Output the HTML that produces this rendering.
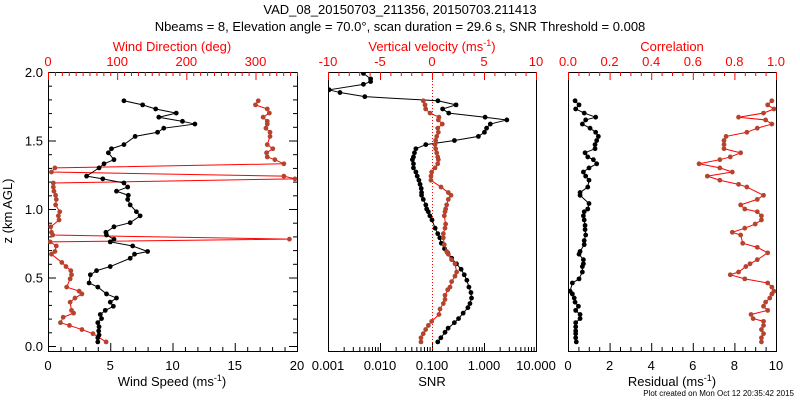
<!DOCTYPE html>
<html><head><meta charset="utf-8"><style>
body{margin:0;background:#fff;}
svg{display:block;font-family:"Liberation Sans",sans-serif;}
</style></head><body>
<svg id="c" width="800" height="400" xmlns="http://www.w3.org/2000/svg"></svg>
<script>
// ---- data ----
const speedZ=[1.79,1.76,1.73,1.70,1.67,1.64,1.62,1.59,1.56,1.53,1.47,1.44,1.41,1.36,1.33,1.30,1.24,1.22,1.19,1.16,1.13,1.10,1.07,1.03,0.98,0.95,0.90,0.87,0.83,0.81,0.78,0.76,0.73,0.69,0.67,0.64,0.58,0.55,0.52,0.46,0.43,0.38,0.35,0.32,0.29,0.26,0.23,0.20,0.17,0.14,0.11,0.08,0.06,0.03];
const speedVals=[6.1,7.6,8.65,10.3,8.9,10.8,11.8,9.3,8.8,7.0,6.1,5.1,4.85,5.3,4.5,4.1,3.1,4.4,6.1,6.4,5.5,6.45,6.4,6.6,7.1,7.4,6.6,5.3,4.65,4.7,5.3,5.0,6.8,8.0,6.95,6.6,5.0,3.9,3.4,3.3,4.0,4.7,5.5,5.0,5.25,4.6,4.2,4.3,4.0,4.1,4.07,4.1,4.0,4.0];
const dirZ=[1.79,1.76,1.73,1.70,1.67,1.64,1.62,1.59,1.56,1.53,1.47,1.44,1.41,1.38,1.36,1.33,1.30,1.27,1.24,1.22,1.19,1.16,1.13,1.10,1.07,1.03,0.98,0.95,0.92,0.87,0.83,0.81,0.78,0.76,0.73,0.69,0.67,0.61,0.58,0.55,0.52,0.49,0.43,0.40,0.38,0.35,0.32,0.26,0.24,0.21,0.17,0.15,0.12,0.09,0.03];
const dirVals=[304,300,317,320,311,317,317,315,321,321,317,325,316,317,328,341,10,5,341,357,7.7,7.7,8.6,11,12,11,17,15,16,4,5,6.8,349,3,12,10,5,20,26,33,34,32,27,45,49,39,32,34,37,22,18,31,49,65,84];
const snrZ=[1.99,1.95,1.93,1.91,1.87,1.85,1.82,1.79,1.76,1.73,1.70,1.67,1.65,1.62,1.59,1.56,1.53,1.50,1.47,1.44,1.41,1.38,1.36,1.33,1.30,1.27,1.24,1.21,1.18,1.15,1.12,1.10,1.07,1.03,1.00,0.98,0.95,0.92,0.86,0.82,0.79,0.75,0.71,0.68,0.64,0.60,0.56,0.52,0.48,0.43,0.39,0.35,0.31,0.28,0.24,0.20,0.17,0.13,0.10,0.06,0.03];
const snrVals=[0.0048,0.0066,0.0066,0.0048,0.00105,0.0017,0.0051,0.13,0.29,0.16,0.21,1.05,2.75,1.32,1.12,1.02,0.78,0.27,0.076,0.049,0.046,0.044,0.042,0.044,0.044,0.049,0.052,0.056,0.059,0.062,0.063,0.063,0.068,0.076,0.079,0.085,0.091,0.100,0.115,0.129,0.141,0.151,0.174,0.2,0.24,0.295,0.363,0.417,0.468,0.513,0.562,0.575,0.537,0.49,0.398,0.324,0.269,0.204,0.178,0.148,0.129];
const velZ=[1.79,1.76,1.73,1.70,1.67,1.65,1.62,1.59,1.56,1.53,1.50,1.47,1.44,1.41,1.38,1.36,1.33,1.30,1.27,1.24,1.21,1.16,1.12,1.10,1.07,1.03,1.00,0.98,0.95,0.89,0.86,0.82,0.79,0.74,0.69,0.67,0.63,0.60,0.54,0.51,0.47,0.43,0.41,0.37,0.34,0.31,0.27,0.23,0.18,0.15,0.12,0.09,0.06,0.03];
const velVals=[-0.84,-0.67,-0.61,-0.19,0.67,0.61,0.99,0.55,0.61,0.45,0.35,0.29,0.35,0.45,0.55,0.61,0.55,0.29,-0.03,-0.1,-0.1,0.87,1.57,1.83,1.57,1.41,1.31,1.25,1.18,1.31,1.25,1.09,1.09,1.18,1.41,1.57,1.89,2.21,2.37,2.21,1.89,1.73,1.51,1.25,1.25,1.09,0.77,0.67,-0.03,-0.35,-0.61,-0.84,-1.06,-1.06];
const resZ=[1.79,1.76,1.73,1.70,1.67,1.65,1.62,1.59,1.56,1.53,1.50,1.47,1.44,1.41,1.38,1.36,1.33,1.30,1.27,1.24,1.21,1.16,1.12,1.10,1.04,1.00,0.98,0.95,0.92,0.88,0.85,0.81,0.77,0.74,0.69,0.67,0.63,0.60,0.58,0.54,0.49,0.46,0.40,0.38,0.35,0.32,0.29,0.26,0.23,0.20,0.17,0.14,0.11,0.09,0.06,0.03];
const resVals=[0.34,0.53,0.37,0.78,1.33,0.85,0.69,1.06,1.33,1.46,1.38,1.3,1.3,0.82,0.95,1.22,1.38,1.01,0.74,0.85,1.01,0.95,0.58,0.58,1.01,0.95,0.78,0.74,0.78,0.82,0.82,0.85,0.78,0.78,0.58,0.53,0.74,0.74,0.69,0.69,0.53,0.21,0.1,0.21,0.3,0.34,0.5,0.37,0.58,0.58,0.37,0.37,0.37,0.37,0.37,0.4];
const corrZ=[1.79,1.76,1.73,1.70,1.67,1.65,1.62,1.59,1.56,1.53,1.50,1.47,1.44,1.41,1.38,1.36,1.33,1.30,1.27,1.24,1.21,1.18,1.16,1.10,1.07,1.03,1.00,0.98,0.95,0.92,0.89,0.86,0.83,0.81,0.75,0.72,0.68,0.63,0.60,0.58,0.54,0.52,0.49,0.46,0.43,0.40,0.38,0.35,0.32,0.29,0.26,0.23,0.20,0.18,0.15,0.12,0.09,0.06,0.03];
const corrVals=[0.98,0.96,0.99,0.94,0.82,0.95,0.98,0.91,0.86,0.76,0.75,0.75,0.75,0.83,0.78,0.73,0.63,0.73,0.79,0.67,0.73,0.82,0.86,0.94,0.91,0.83,0.85,0.91,0.93,0.93,0.9,0.85,0.79,0.83,0.84,0.91,0.96,0.91,0.875,0.855,0.82,0.78,0.85,0.96,0.98,0.99,0.98,0.97,0.95,0.94,0.96,0.88,0.89,0.94,0.94,0.93,0.94,0.93,0.93];
const zTicks=["0.0","0.5","1.0","1.5","2.0"];
const speedTicks=["0","5","10","15","20"];
const dirTicks=["0","100","200","300"];
const snrTicks=["0.001","0.010","0.100","1.000","10.000"];
const velTicks=["-10","-5","0","5","10"];
const resTicks=["0","2","4","6","8","10"];
const corrTicks=["0.0","0.2","0.4","0.6","0.8","1.0"];

const NS="http://www.w3.org/2000/svg";
const svg=document.getElementById('c');
const RED="#ff0000", BR="#b5442e";
const TOP=72,BOT=351;
function Y(z){return 346-z*137;}
function mk(tag,attrs,parent){const e=document.createElementNS(NS,tag);for(const k in attrs)e.setAttribute(k,attrs[k]);(parent||svg).appendChild(e);return e;}
function txt(x,y,s,opt){opt=opt||{};const t=mk('text',{x:x,y:y,'font-size':opt.fs||13,fill:opt.fill||'#000','text-anchor':opt.anchor||'middle'});if(opt.tr)t.setAttribute('transform',opt.tr);t.textContent=s;return t;}
function tick(x1,y1,x2,y2,col){const l=mk('line',{x1:x1,y1:y1,x2:x2,y2:y2,stroke:col,'stroke-width':1});}

// titles
txt(400,14,"VAD_08_20150703_211356, 20150703.211413",{name:'chart-title'});
txt(400,31,"Nbeams = 8, Elevation angle = 70.0°, scan duration = 29.6 s, SNR Threshold = 0.008",{name:'chart-subtitle'});
txt(794,396,"Plot created on Mon Oct 12 20:35:42 2015",{fs:8,anchor:'end',name:'plot-created-note'});
txt(12,211,"z (km AGL)",{tr:'rotate(-90 12 211)',name:'y-axis-title'});

const panels=[
 {x0:48,x1:297,name:'wind'},
 {x0:328,x1:536,name:'snr'},
 {x0:568,x1:776,name:'residual'}];
panels.forEach(p=>{const r=mk('rect',{x:p.x0+0.5,y:TOP+0.5,width:p.x1-p.x0,height:BOT-TOP,fill:'none',stroke:'#000','stroke-width':1});});

// y axis panel 1
for(let i=0;i<=20;i++){const z=i*0.1,y=Y(z)+0.5,L=(i%5==0)?8:4;tick(48,y,48+L,y,'#000');tick(297,y,297-L,y,'#000');}
zTicks.forEach((s,i)=>txt(43,Y(i*0.5)+5,s,{anchor:'end',name:'y-tick-label'}));

// panel 1 axes
const sx=v=>48+v*(249/20), dx=v=>48+v*(249/360);
for(let v=0;v<=20;v++){const x=sx(v)+0.5;tick(x,BOT,x,BOT-(v%5==0?8:4),'#000');}
speedTicks.forEach((s,i)=>txt(sx(i*5),370,s,{name:'speed-tick-label'}));
for(let v=0;v<=360;v+=10){const x=dx(v)+0.5;tick(x,TOP,x,TOP+(v%100==0?8:4),RED);}
dirTicks.forEach((s,i)=>txt(dx(i*100),66,s,{fill:RED,name:'direction-tick-label'}));
const t1=txt(172,386,"Wind Speed (ms",{name:'x-axis-title-speed'});const s1=mk('tspan',{dy:-5,'font-size':9},t1);s1.textContent='-1';const s1b=mk('tspan',{dy:5},t1);s1b.textContent=')';
txt(172,51,"Wind Direction (deg)",{fill:RED,name:'x-axis-title-direction'});

// panel 2 axes
const lx=v=>328+(Math.log10(v)+3)*52, vx=v=>432+v*10.4;
for(let d=-3;d<=1;d++){for(let m=1;m<=9;m++){const v=m*Math.pow(10,d);if(Math.log10(v)>1.0001)break;const x=lx(v)+0.5;tick(x,BOT,x,BOT-(m==1?8:4),'#000');}}
snrTicks.forEach((s,i)=>txt(328+i*52,370,s,{name:'snr-tick-label'}));
txt(432,386,"SNR",{name:'x-axis-title-snr'});
for(let v=-10;v<=10;v++){const x=vx(v)+0.5;tick(x,TOP,x,TOP+(v%5==0?8:4),RED);}
velTicks.forEach((s,i)=>txt(vx(-10+i*5),66,s,{fill:RED,name:'velocity-tick-label'}));
const t2=txt(432,51,"Vertical velocity (ms",{fill:RED,name:'x-axis-title-velocity'});const s2=mk('tspan',{dy:-5,'font-size':9},t2);s2.textContent='-1';const s2b=mk('tspan',{dy:5},t2);s2b.textContent=')';
const zl=mk('line',{x1:vx(0)+0.5,y1:TOP,x2:vx(0)+0.5,y2:BOT,stroke:RED,'stroke-dasharray':'1,2'});



// panel 3 axes
const rx=v=>568+v*20.8, cx=v=>568+v*208;
for(let i=0;i<=20;i++){const x=rx(i*0.5)+0.5;tick(x,BOT,x,BOT-(i%4==0?8:4),'#000');}
resTicks.forEach((s,i)=>txt(rx(i*2),370,s,{name:'residual-tick-label'}));
const t3=txt(672,386,"Residual (ms",{name:'x-axis-title-residual'});const s3=mk('tspan',{dy:-5,'font-size':9},t3);s3.textContent='-1';const s3b=mk('tspan',{dy:5},t3);s3b.textContent=')';
for(let i=0;i<=20;i++){const x=cx(i*0.05)+0.5;tick(x,TOP,x,TOP+(i%4==0?8:4),RED);}
corrTicks.forEach((s,i)=>txt(cx(i*0.2),66,s,{fill:RED,name:'correlation-tick-label'}));
txt(672,51,"Correlation",{fill:RED,name:'x-axis-title-correlation'});

// series
function series(zs,vals,fx,lineCol,ptCol,name,clip){
  const pts=zs.map((z,i)=>[fx(vals[i]),Y(z)]);
  const g=mk('g',clip?{'clip-path':'url(#'+clip+')'}:{});
  
  
  const pl=mk('polyline',{points:pts.map(p=>p.join(',')).join(' '),fill:'none',stroke:lineCol,'stroke-width':1},g);
  
  
  pts.forEach(p=>{const c=mk('circle',{cx:p[0],cy:p[1],r:2.4,fill:ptCol},g);
    
    });
}
const defs=mk('defs',{});
[['cp1',48,297],['cp2',328,536],['cp3',568,776]].forEach(a=>{const cp=mk('clipPath',{id:a[0]},defs);mk('rect',{x:a[1],y:TOP,width:a[2]-a[1]+1,height:BOT-TOP},cp);});
series(dirZ,dirVals,dx,RED,BR,'wind-direction','cp1');
series(speedZ,speedVals,sx,'#000','#000','wind-speed','cp1');
series(snrZ,snrVals,lx,'#000','#000','snr','cp2');
series(velZ,velVals,vx,RED,BR,'vertical-velocity','cp2');
series(resZ,resVals,rx,'#000','#000','residual','cp3');
series(corrZ,corrVals,cx,RED,BR,'correlation','cp3');
</script>
</body></html>
